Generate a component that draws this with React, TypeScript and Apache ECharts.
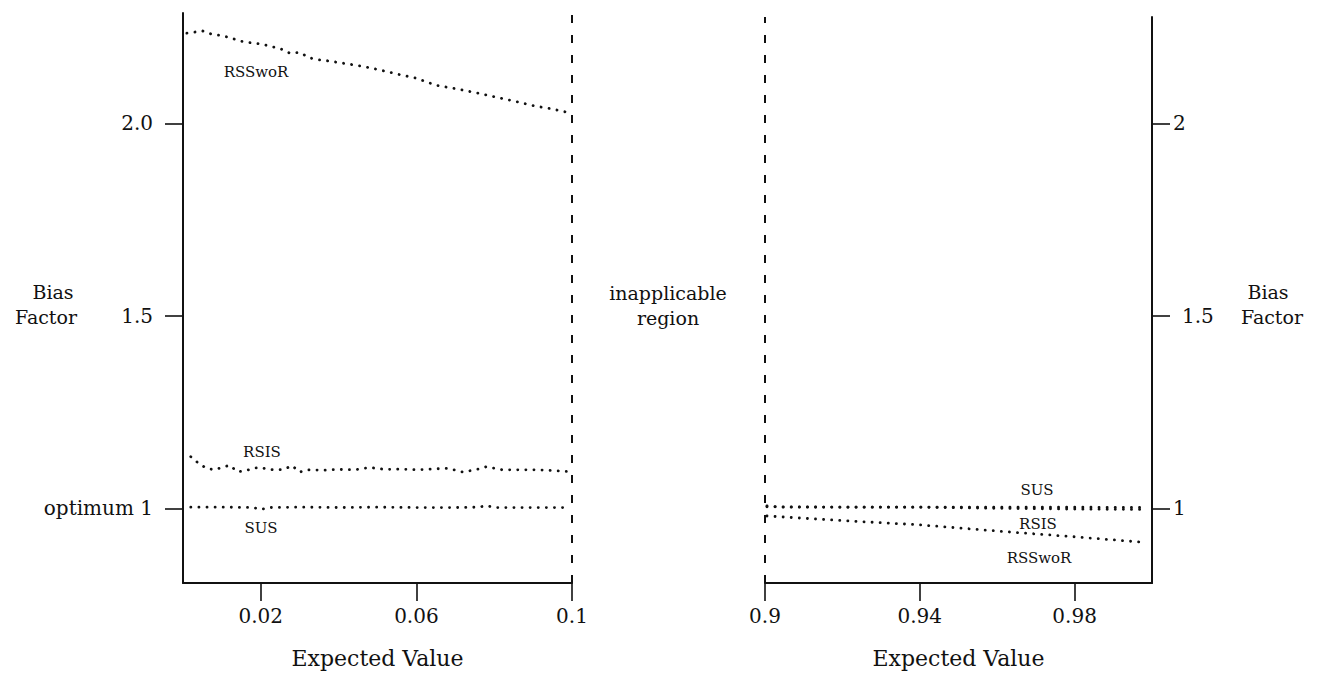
import React, { useEffect, useRef } from "react";
import * as echarts from "echarts";

// Left panel: expected values 0 .. 0.1
const leftRsswor: [number, number][] = [
  [0.001, 2.234], [0.005, 2.24], [0.0075, 2.231], [0.01, 2.228], [0.0125, 2.221],
  [0.015, 2.213], [0.0175, 2.209], [0.02, 2.206], [0.0225, 2.2], [0.025, 2.194],
  [0.0275, 2.182], [0.03, 2.184], [0.0325, 2.17], [0.035, 2.165], [0.0375, 2.162],
  [0.04, 2.158], [0.045, 2.15], [0.05, 2.14], [0.055, 2.128], [0.06, 2.117],
  [0.065, 2.099], [0.07, 2.09], [0.075, 2.08], [0.08, 2.069], [0.085, 2.058],
  [0.09, 2.046], [0.095, 2.037], [0.0995, 2.027],
];
const leftRsis: [number, number][] = [
  [0.002, 1.134], [0.004, 1.117], [0.006, 1.104], [0.008, 1.1], [0.01, 1.106],
  [0.012, 1.112], [0.014, 1.095], [0.016, 1.097], [0.018, 1.104], [0.02, 1.106],
  [0.022, 1.101], [0.024, 1.1], [0.026, 1.101], [0.028, 1.111], [0.03, 1.094],
  [0.032, 1.1], [0.036, 1.099], [0.04, 1.101], [0.044, 1.1], [0.048, 1.106],
  [0.052, 1.101], [0.056, 1.102], [0.06, 1.1], [0.064, 1.102], [0.068, 1.104],
  [0.072, 1.094], [0.076, 1.102], [0.078, 1.108], [0.082, 1.1], [0.086, 1.1],
  [0.09, 1.1], [0.094, 1.099], [0.0995, 1.095],
];
const leftSus: [number, number][] = [
  [0.002, 1.003], [0.01, 1.003], [0.018, 1.002], [0.02, 0.997], [0.022, 1.002],
  [0.03, 1.003], [0.04, 1.002], [0.05, 1.003], [0.06, 1.002], [0.07, 1.002],
  [0.076, 1.003], [0.078, 1.007], [0.08, 1.002], [0.09, 1.002], [0.0995, 1.002],
];

// Right panel: expected values 0.9 .. 1
const rightSus: [number, number][] = [
  [0.9005, 1.006], [0.905, 1.003], [0.92, 1.003], [0.94, 1.003], [0.96, 1.003],
  [0.98, 1.003], [0.9975, 1.002],
];
const rightRsis: [number, number][] = [
  [0.9005, 1.004], [0.92, 1.003], [0.94, 1.003], [0.96, 1.0], [0.98, 0.998],
  [0.9975, 0.997],
];
const rightRsswor: [number, number][] = [
  [0.9005, 0.98], [0.92, 0.968], [0.94, 0.957], [0.9625, 0.939], [0.98, 0.926],
  [0.9975, 0.912],
];

const leftXTicks = [0.02, 0.06, 0.1];
const rightXTicks = [0.9, 0.94, 0.98];
const yTicks = [1, 1.5, 2];

const INK = "#111";
const FONT = "DejaVu Serif";

const dotted = {
  color: INK,
  width: 2.8,
  type: [0.1, 8] as number[],
  cap: "round" as const,
};

function lineSeries(name: string, data: [number, number][], idx: number) {
  return {
    name,
    type: "line" as const,
    xAxisIndex: idx,
    yAxisIndex: idx,
    data,
    showSymbol: false,
    symbol: "none",
    lineStyle: dotted,
    silent: true,
  };
}

function boundary(x: number, idx: number) {
  return {
    type: "line" as const,
    xAxisIndex: idx,
    yAxisIndex: idx,
    data: [],
    silent: true,
    markLine: {
      symbol: "none",
      silent: true,
      label: { show: false },
      lineStyle: { color: INK, width: 2, type: [8, 12] as number[] },
      data: [{ xAxis: x }],
    },
  };
}

function text(str: string, x: number, y: number, size = 19) {
  return {
    type: "text" as const,
    x,
    y,
    style: {
      text: str,
      fontFamily: FONT,
      fontSize: size,
      fill: INK,
      align: "center" as const,
      verticalAlign: "middle" as const,
    },
  };
}

export default function App() {
  const ref = useRef<HTMLDivElement>(null);

  useEffect(() => {
    if (!ref.current) return;
    const chart = echarts.init(ref.current, null, { renderer: "svg" });

    const axisLine = { show: true, lineStyle: { color: INK, width: 2 } };
    const tickStyle = { color: INK, width: 1.6 };
    const labelFont = { color: INK, fontFamily: FONT, fontSize: 20 };
    const nameFont = { color: INK, fontFamily: FONT, fontSize: 22 };

    chart.setOption({
      animation: false,
      backgroundColor: "#fff",
      grid: [
        { left: 183, top: 13, width: 389, height: 570 },
        { left: 765, top: 17, width: 387, height: 566 },
      ],
      xAxis: [
        {
          type: "value",
          gridIndex: 0,
          min: 0,
          max: 0.1,
          axisLine,
          splitLine: { show: false },
          axisTick: { show: true, customValues: leftXTicks, length: 18, lineStyle: tickStyle },
          axisLabel: { ...labelFont, customValues: leftXTicks, margin: 23, formatter: (v: number) => String(v) },
          name: "Expected Value",
          nameLocation: "middle",
          nameGap: 64,
          nameTextStyle: nameFont,
        },
        {
          type: "value",
          gridIndex: 1,
          min: 0.9,
          max: 1,
          axisLine,
          splitLine: { show: false },
          axisTick: { show: true, customValues: rightXTicks, length: 18, lineStyle: tickStyle },
          axisLabel: { ...labelFont, customValues: rightXTicks, margin: 23, formatter: (v: number) => String(v) },
          name: "Expected Value",
          nameLocation: "middle",
          nameGap: 64,
          nameTextStyle: nameFont,
        },
      ],
      yAxis: [
        {
          type: "value",
          gridIndex: 0,
          position: "left",
          min: 0.806,
          max: 2.2865,
          axisLine,
          splitLine: { show: false },
          axisTick: { show: true, customValues: yTicks, length: 18, lineStyle: tickStyle },
          axisLabel: {
            ...labelFont,
            customValues: yTicks,
            margin: 30,
            formatter: (v: number) => (v === 1 ? "optimum 1" : v.toFixed(1)),
          },
        },
        {
          type: "value",
          gridIndex: 1,
          position: "right",
          min: 0.806,
          max: 2.276,
          axisLine,
          splitLine: { show: false },
          axisTick: { show: true, customValues: yTicks, length: 18, lineStyle: tickStyle },
          axisLabel: {
            ...labelFont,
            customValues: yTicks,
            margin: 21,
            formatter: (v: number) => (v === 1.5 ? "{p|1.5}" : String(v)),
            rich: { p: { ...labelFont, padding: [0, 0, 0, 9] } },
          },
        },
      ],
      series: [
        lineSeries("RSSwoR", leftRsswor, 0),
        lineSeries("RSIS", leftRsis, 0),
        lineSeries("SUS", leftSus, 0),
        lineSeries("SUS", rightSus, 1),
        lineSeries("RSIS", rightRsis, 1),
        lineSeries("RSSwoR", rightRsswor, 1),
        boundary(0.1, 0),
        boundary(0.9, 1),
      ],
      graphic: [
        text("Bias", 53, 292),
        text("Factor", 46, 317),
        text("inapplicable", 668, 293),
        text("region", 668, 318),
        text("Bias", 1268, 292),
        text("Factor", 1272, 317),
        text("RSSwoR", 256, 72, 15),
        text("RSIS", 262, 452, 15),
        text("SUS", 261, 528, 15),
        text("SUS", 1037, 490, 15),
        text("RSIS", 1038, 524, 15),
        text("RSSwoR", 1039, 558, 15),
      ],
    });

    return () => chart.dispose();
  }, []);

  return (
    <div
      ref={ref}
      style={{ position: "fixed", left: 0, top: 0, width: 1317, height: 680 }}
    />
  );
}
